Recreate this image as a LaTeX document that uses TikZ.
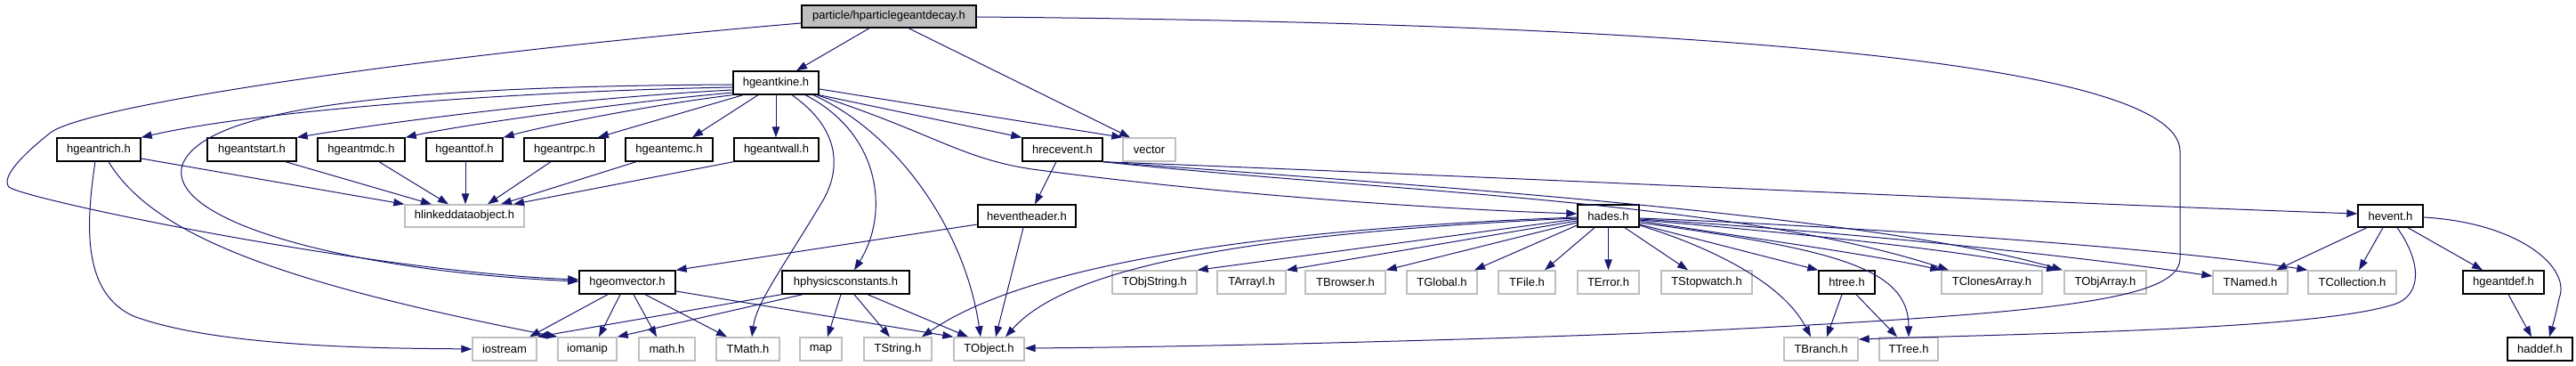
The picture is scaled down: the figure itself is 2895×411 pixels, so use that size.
\documentclass[tikz,border=0pt]{standalone}
\usepackage{fontspec}
\setmainfont{Liberation Sans}
\usetikzlibrary{arrows.meta,calc}
\definecolor{edgec}{RGB}{25,25,112}
\definecolor{greyb}{RGB}{191,191,191}
\definecolor{greyf}{RGB}{191,191,191}
\newcommand{\mybox}[7]{\node[#1,minimum width=#5pt-#4pt,minimum height=#7pt-#6pt] (#2) at ({(#4+#5)/2},{(#6+#7)/2}) {#3};}
\begin{document}
\begin{tikzpicture}[x=1pt,y=-1pt,
  box/.style={draw=black,line width=1.4pt,fill=white,inner sep=0pt,text=black,font=\fontsize{13}{13}\selectfont},
  ext/.style={box,draw=greyb},
  root/.style={box,fill=greyf},
  e/.style={draw=edgec,line width=1pt,-{Triangle[length=12pt,width=8.5pt]}}
]
\useasboundingbox (0,0) rectangle (2895,411);
% row 0
\mybox{root}{P}{particle/hparticlegeantdecay.h}{901}{1097}{6}{31}
% row 1
\mybox{box}{K}{hgeantkine.h}{824}{920}{80}{106}
% row 2
\mybox{box}{rich}{hgeantrich.h}{64}{158}{155}{181}
\mybox{box}{start}{hgeantstart.h}{233}{333}{155}{181}
\mybox{box}{mdc}{hgeantmdc.h}{357}{455}{155}{181}
\mybox{box}{tof}{hgeanttof.h}{479}{565}{155}{181}
\mybox{box}{rpc}{hgeantrpc.h}{589}{680}{155}{181}
\mybox{box}{emc}{hgeantemc.h}{703}{801}{155}{181}
\mybox{box}{wall}{hgeantwall.h}{825}{920}{155}{181}
\mybox{box}{hrec}{hrecevent.h}{1149}{1239}{155}{181}
\mybox{ext}{vec}{vector}{1262}{1321}{155}{181}
% row 3
\mybox{ext}{hlink}{hlinkeddataobject.h}{455}{589}{230}{255}
\mybox{box}{hevh}{heventheader.h}{1099}{1209}{230}{255}
\mybox{box}{hades}{hades.h}{1773}{1842}{230}{255}
\mybox{box}{hevent}{hevent.h}{2650}{2723}{230}{255}
% row 4
\mybox{box}{hgeom}{hgeomvector.h}{651}{759}{304}{330}
\mybox{box}{hphys}{hphysicsconstants.h}{879}{1022}{304}{330}
\mybox{ext}{tobjs}{TObjString.h}{1250}{1345}{304}{330}
\mybox{ext}{tarr}{TArrayI.h}{1368}{1445}{304}{330}
\mybox{ext}{tbrow}{TBrowser.h}{1467}{1557}{304}{330}
\mybox{ext}{tglob}{TGlobal.h}{1581}{1660}{304}{330}
\mybox{ext}{tfile}{TFile.h}{1684}{1748}{304}{330}
\mybox{ext}{terr}{TError.h}{1773}{1842}{304}{330}
\mybox{ext}{tstop}{TStopwatch.h}{1867}{1969}{304}{330}
\mybox{box}{htree}{htree.h}{2044}{2107}{304}{330}
\mybox{ext}{tclon}{TClonesArray.h}{2182}{2295}{304}{330}
\mybox{ext}{tobja}{TObjArray.h}{2320}{2412}{304}{330}
\mybox{ext}{tnam}{TNamed.h}{2487}{2571}{304}{330}
\mybox{ext}{tcoll}{TCollection.h}{2594}{2693}{304}{330}
\mybox{box}{hgdef}{hgeantdef.h}{2768}{2859}{304}{330}
% row 5
\mybox{ext}{iostr}{iostream}{531}{603}{379}{405}
\mybox{ext}{ioman}{iomanip}{627}{693}{379}{405}
\mybox{ext}{mathh}{math.h}{718}{781}{379}{405}
\mybox{ext}{tmath}{TMath.h}{805}{876}{379}{405}
\mybox{ext}{mapn}{map}{899}{946}{379}{405}
\mybox{ext}{tstr}{TString.h}{971}{1047}{379}{405}
\mybox{ext}{tobj}{TObject.h}{1072}{1151}{379}{405}
\mybox{ext}{tbra}{TBranch.h}{2005}{2088}{379}{405}
\mybox{ext}{ttree}{TTree.h}{2112}{2178}{379}{405}
\mybox{box}{hadd}{haddef.h}{2818}{2891}{379}{405}

% ---- edges from P
\draw[e] (P.south -| 977,0) -- (K.north -| 895,0);
\draw[e] (P.south -| 1021,0) -- (vec.north -| 1270,0);
\draw[e] (P.west |- 0,26) .. controls (500,60) and (110,115) .. (58,148) .. controls (30,170) and (0,198) .. (10,210) .. controls (30,225) and (420,305) .. (hgeom.west |- 0,314);
\draw[e] (P.east |- 0,19) .. controls (1800,25) and (2450,60) .. (2450,170) -- (2450,290) .. controls (2450,338) and (2300,352) .. (1900,372) .. controls (1600,384) and (1300,390) .. (tobj.east |- 0,391);

% ---- edges from K
\draw[e] (K.west |- 0,98) .. controls (600,102) and (300,122) .. (rich.north east);
\draw[e] (K.west |- 0,95) .. controls (450,97) and (230,120) .. (205,185) .. controls (185,250) and (400,305) .. (hgeom.west |- 0,316);
\draw[e] (K.west |- 0,101) .. controls (650,110) and (450,135) .. (start.north east);
\draw[e] (K.west |- 0,104) .. controls (700,115) and (520,140) .. (mdc.north east);
\draw[e] (K.south west) .. controls (730,118) and (610,142) .. (tof.north east);
\draw[e] (K.south -| 835,0) -- (rpc.north -| 672,0);
\draw[e] (K.south -| 852,0) -- (emc.north -| 778,0);
\draw[e] (K.south -| 872,0) -- (wall.north -| 872,0);
\draw[e] (K.south -| 890,0) .. controls (945,145) and (945,190) .. (925,225) .. controls (880,300) and (850,340) .. (tmath.north -| 845,0);
\draw[e] (K.south -| 905,0) .. controls (990,150) and (1000,240) .. (hphys.north -| 960,0);
\draw[e] (K.south -| 914,0) .. controls (1010,150) and (1085,260) .. (tobj.north -| 1102,0);
\draw[e] (K.south -| 918,0) .. controls (1050,150) and (1080,178) .. (1160,190) .. controls (1400,222) and (1650,236) .. (hades.west |- 0,240);
\draw[e] (K.south east) -- (hrec.north west);
\draw[e] (K.east |- 0,100) -- (vec.north west);

% ---- edges from hrecevent
\draw[e] (hrec.south -| 1187,0) -- (hevh.north -| 1163,0);
\draw[e] (hrec.south east) .. controls (1600,195) and (2300,228) .. (hevent.west |- 0,240);
\draw[e] (hrec.south east) .. controls (1550,215) and (1950,225) .. (tclon.north -| 2190,0);
\draw[e] (hrec.south east) .. controls (1550,205) and (2100,240) .. (tobja.north -| 2318,0);

% ---- heventheader
\draw[e] (hevh.west |- 0,252) -- (hgeom.north east);
\draw[e] (hevh.south -| 1150,0) -- (tobj.north -| 1119,0);

% ---- hades
\draw[e] (hades.west |- 0,246) -- (tobjs.north east);
\draw[e] (hades.west |- 0,248) -- (tarr.north east);
\draw[e] (hades.west |- 0,250) -- (tbrow.north east);
\draw[e] (hades.west |- 0,253) -- (tglob.north -| 1657,0);
\draw[e] (hades.south -| 1792,0) -- (tfile.north -| 1736,0);
\draw[e] (hades.south) -- (terr.north);
\draw[e] (hades.south -| 1826,0) -- (tstop.north -| 1897,0);
\draw[e] (hades.east |- 0,252) -- (htree.north west);
\draw[e] (hades.east |- 0,253) .. controls (1930,280) and (2005,320) .. (tbra.north -| 2035,0);
\draw[e] (hades.east |- 0,250) .. controls (2060,280) and (2145,300) .. (ttree.north -| 2145,0);
\draw[e] (hades.east |- 0,248) .. controls (1950,265) and (2100,285) .. (tclon.north west);
\draw[e] (hades.east |- 0,247) .. controls (2000,260) and (2200,280) .. (tobja.north -| 2312,0);
\draw[e] (hades.east |- 0,246) .. controls (2100,262) and (2350,290) .. (tnam.west |- 0,310);
\draw[e] (hades.east |- 0,245) .. controls (2100,255) and (2450,280) .. (tcoll.north west);
\draw[e] (hades.west |- 0,244) .. controls (1400,258) and (1150,300) .. (tstr.north -| 1036,0);
\draw[e] (hades.west |- 0,245) .. controls (1400,262) and (1200,300) .. (tobj.north -| 1130,0);

% ---- hevent
\draw[e] (hevent.south -| 2660,0) -- (tnam.north -| 2558,0);
\draw[e] (hevent.south -| 2678,0) -- (tcoll.north -| 2651,0);
\draw[e] (hevent.south -| 2694,0) .. controls (2722,295) and (2722,332) .. (2690,342) .. controls (2600,370) and (2300,374) .. (tbra.east |- 0,381);
\draw[e] (hevent.south -| 2706,0) -- (hgdef.north -| 2790,0);
\draw[e] (hevent.east |- 0,244) .. controls (2830,250) and (2890,300) .. (2876,335) .. controls (2872,355) and (2868,368) .. (hadd.north -| 2865,0);
\draw[e] (hgdef.south -| 2819,0) -- (hadd.north -| 2845,0);

% ---- htree
\draw[e] (htree.south -| 2070,0) -- (tbra.north -| 2053,0);
\draw[e] (htree.south -| 2086,0) -- (ttree.north -| 2132,0);

% ---- hgeomvector
\draw[e] (hgeom.south -| 683,0) -- (iostr.north -| 595,0);
\draw[e] (hgeom.south -| 697,0) -- (ioman.north -| 673,0);
\draw[e] (hgeom.south -| 712,0) -- (mathh.north -| 738,0);
\draw[e] (hgeom.south -| 725,0) -- (tmath.north -| 817,0);
\draw[e] (hgeom.east |- 0,327) -- (tobj.north west);

% ---- hphysicsconstants
\draw[e] (hphys.south west) -- (iostr.north east);
\draw[e] (hphys.south -| 902,0) -- (ioman.north east);
\draw[e] (hphys.south -| 945,0) -- (mapn.north -| 930,0);
\draw[e] (hphys.south -| 960,0) -- (tstr.north -| 1000,0);
\draw[e] (hphys.south -| 975,0) -- (tobj.north -| 1088,0);

% ---- hgeantrich
\draw[e] (rich.east |- 0,178) -- (hlink.north west);
\draw[e] (rich.south -| 122,0) .. controls (170,260) and (300,315) .. (ioman.north west);
\draw[e] (rich.south -| 107,0) .. controls (95,260) and (95,330) .. (150,355) .. controls (250,392) and (450,391) .. (iostr.west);

% ---- detectors to hlinkeddataobject
\draw[e] (start.south -| 321,0) -- (hlink.north -| 485,0);
\draw[e] (mdc.south -| 426,0) -- (hlink.north -| 504,0);
\draw[e] (tof.south -| 523,0) -- (hlink.north -| 523,0);
\draw[e] (rpc.south -| 619,0) -- (hlink.north -| 548,0);
\draw[e] (emc.south -| 715,0) -- (hlink.north -| 563,0);
\draw[e] (wall.south west) -- (hlink.north -| 577,0);
\end{tikzpicture}
\end{document}
